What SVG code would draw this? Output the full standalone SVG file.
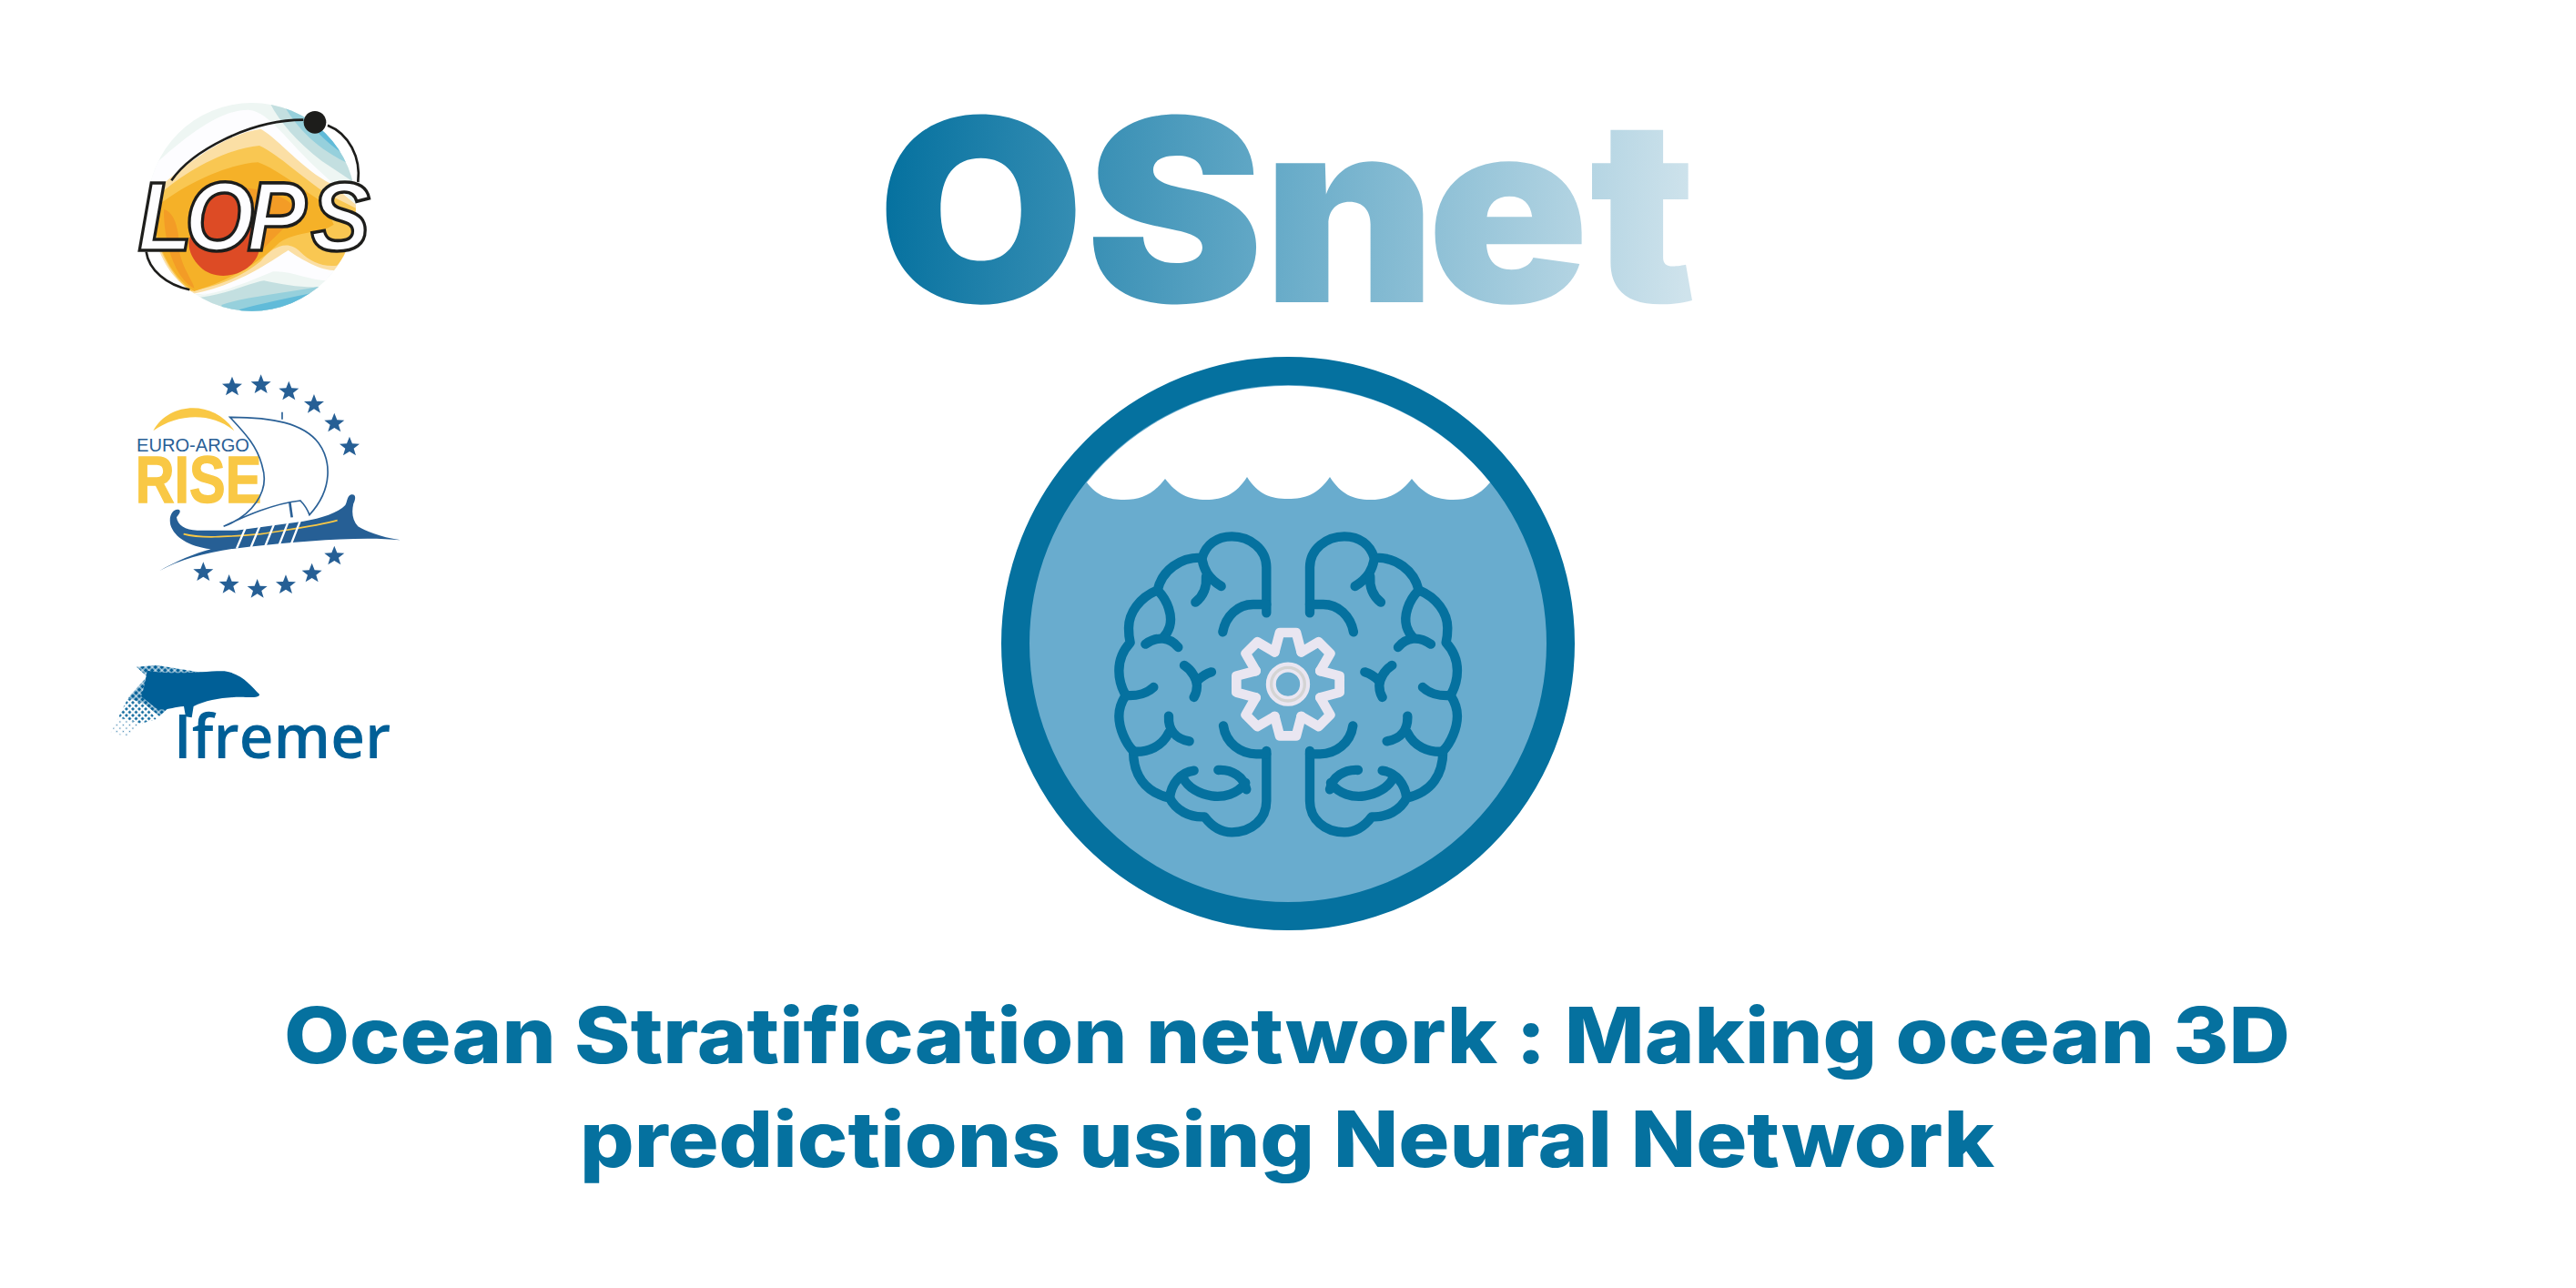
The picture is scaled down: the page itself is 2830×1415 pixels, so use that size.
<svg xmlns="http://www.w3.org/2000/svg" width="2830" height="1415" viewBox="0 0 2830 1415">
<style>
.title{font-family:"Inter","Liberation Sans",sans-serif;font-weight:800;font-size:85px;fill:#05719f;font-feature-settings:"calt" 0}
.br{fill:none;stroke:#05719f;stroke-width:31;stroke-linecap:round;stroke-linejoin:round}
.gear{fill:none;stroke:#e9e6f1;stroke-width:32;stroke-linecap:round;stroke-linejoin:round}
.star{fill:#265f95}
</style>
<defs>
<linearGradient id="osg" gradientUnits="userSpaceOnUse" x1="926" y1="200" x2="1769" y2="260"><stop offset="0" stop-color="#05719f"/><stop offset="0.5" stop-color="#69acc9"/><stop offset="1" stop-color="#cfe3ec"/></linearGradient>
<clipPath id="lopsclip"><circle cx="530" cy="412" r="343"/></clipPath>
<polygon id="st" points="0,-34 9,-11 33,-10 14,5 21,28 0,15 -21,28 -14,5 -33,-10 -9,-11"/>
<path id="tooth" d="M-44,-106 L-27,-170 H27 L44,-106"/>
<g id="hemi">
<path class="br" d="M574,340 V190 C574,130 520,88 460,88 C410,88 375,115 362,158 C290,155 230,200 215,265 C155,290 120,340 120,390 C120,410 122,425 125,438 C100,465 88,500 88,530 C88,560 98,590 110,612 C95,635 88,660 88,680 C88,720 110,770 135,795 C135,870 170,930 255,950 C275,990 320,1015 370,1012 C395,1045 425,1063 460,1063 C525,1063 574,1020 574,960 V795"/>
<path class="br" d="M574,805 H540 C490,805 440,770 432,712"/>
<path class="br" d="M362,165 C368,195 380,225 425,252"/>
<path class="br" d="M375,220 C378,255 365,285 340,305"/>
<path class="br" d="M574,312 H530 C480,312 440,350 430,403"/>
<path class="br" d="M215,265 C250,300 265,350 255,385 C250,400 245,410 235,420"/>
<path class="br" d="M175,443 C215,415 255,420 283,453"/>
<path class="br" d="M303,513 C330,530 345,560 345,580 C345,600 340,610 335,618"/>
<path class="br" d="M393,535 C375,540 360,550 345,565"/>
<path class="br" d="M110,612 C155,615 180,605 202,585"/>
<path class="br" d="M135,797 C185,800 230,780 252,735"/>
<path class="br" d="M252,680 C250,720 270,755 320,763"/>
<path class="br" d="M255,950 C260,905 290,865 335,860"/>
<path class="br" d="M300,885 C330,945 450,975 505,900"/>
<path class="br" d="M415,858 C460,855 500,880 508,922"/>
</g>
<pattern id="d1" patternUnits="userSpaceOnUse" width="15" height="15" patternTransform="rotate(45)"><rect x="1.500" y="1.500" width="12" height="12" fill="#005f97"/></pattern>
<pattern id="d2" patternUnits="userSpaceOnUse" width="15" height="15" patternTransform="rotate(45)"><rect x="3.500" y="3.500" width="8" height="8" fill="#005f97"/></pattern>
<pattern id="d3" patternUnits="userSpaceOnUse" width="15" height="15" patternTransform="rotate(45)"><rect x="5.500" y="5.500" width="4" height="4" fill="#3c82ad"/></pattern>
</defs>
<rect width="2830" height="1415" fill="#fff"/>

<g id="lops-logo" transform="translate(100,90) scale(0.3333)">
<g clip-path="url(#lopsclip)">
<rect x="180" y="60" width="700" height="700" fill="#eef6f3"/>
<path fill="#fdfdff" d="M190,290 C300,190 420,90 520,92 C590,100 640,190 760,300 L890,420 V640 L740,680 L340,700 L190,600Z"/>
<path fill="#c3dfe0" d="M590,70 C620,130 680,200 760,260 L880,340 V50 H590Z"/>
<path fill="#96d0dc" d="M640,85 C680,150 740,220 860,275 L890,270 V50 H640Z"/>
<path fill="#61bbd9" d="M710,115 C740,170 790,210 850,250 L890,250 V60 H710Z"/>
<path fill="#fbdfa5" d="M200,370 C300,280 440,170 560,155 C620,190 700,290 790,335 L880,410 C880,470 870,560 825,620 C770,630 700,590 650,555 C600,585 490,670 330,700 C260,650 190,520 190,400Z"/>
<path fill="#f9c752" d="M210,385 C300,300 440,220 555,210 C620,240 700,320 780,370 L880,420 C880,480 860,560 810,605 C760,610 720,590 690,560 C650,520 600,540 560,590 C500,640 430,670 330,690 C260,640 200,520 200,420Z"/>
<path fill="#f5b128" d="M205,420 C300,340 450,270 550,265 C620,290 700,360 770,400 L800,470 C760,500 680,490 620,530 C560,590 470,650 340,690 C260,640 205,520 205,420Z"/>
<path fill="#f39c26" d="M240,420 C280,430 290,500 290,540 C290,600 340,660 340,680 C280,650 240,540 240,420Z M400,350 C480,340 620,350 680,420 C660,470 600,510 560,560 L400,560Z"/>
<path fill="#dd4b25" d="M420,350 C480,345 520,400 530,450 C560,500 570,560 530,600 C480,650 400,650 360,610 C320,570 310,520 340,490 C370,450 380,400 420,350Z"/>
<path fill="#fdfdff" d="M340,705 C450,690 540,640 600,595 C660,570 730,650 800,650 L880,640 V780 H340Z"/>
<path fill="#eef6f3" d="M350,705 C450,690 540,650 600,625 C660,620 730,660 800,655 V780 H350Z"/>
<path fill="#c3dfe0" d="M360,710 C450,700 530,660 570,655 C640,670 700,680 770,675 L760,780 H370Z"/>
<path fill="#96d0dc" d="M430,735 C500,710 610,700 750,675 L740,780 H440Z"/>
<path fill="#61bbd9" d="M490,750 C560,730 660,710 730,695 L700,780 H490Z"/>
</g>
<path fill="none" stroke="#1d1d1b" stroke-width="8" d="M265,325 C330,230 520,125 700,125"/>
<path fill="none" stroke="#1d1d1b" stroke-width="8" d="M780,143 C850,170 890,250 880,330"/>
<path fill="none" stroke="#1d1d1b" stroke-width="8" d="M182,560 C190,620 250,670 325,685"/>
<circle cx="738" cy="133" r="37" fill="#1d1d1b"/>
<text transform="scale(0.9,1)" x="172 344 572 805" y="555" font-family="Liberation Sans, sans-serif" font-weight="700" font-style="italic" font-size="325" fill="#fdfdff" stroke="#1d1d1b" stroke-width="11">LOPS</text>
</g>

<g id="euro-argo-logo" transform="translate(100,390) scale(0.3333)">
<use href="#st" class="star" x="465" y="105"/><use href="#st" class="star" x="560" y="98"/><use href="#st" class="star" x="652" y="120"/><use href="#st" class="star" x="735" y="163"/><use href="#st" class="star" x="802" y="225"/><use href="#st" class="star" x="852" y="303"/>
<use href="#st" class="star" x="802" y="663"/><use href="#st" class="star" x="728" y="720"/><use href="#st" class="star" x="642" y="758"/><use href="#st" class="star" x="548" y="772"/><use href="#st" class="star" x="455" y="757"/><use href="#st" class="star" x="370" y="716"/>
<path fill="#f9c845" d="M205,250 C260,150 410,150 472,250 C400,190 290,190 205,250Z"/>
<text x="150" y="318" font-family="Liberation Sans, sans-serif" font-size="60" fill="#2a6096" textLength="372" lengthAdjust="spacingAndGlyphs">EURO-ARGO</text>
<text x="146" y="485" font-family="Liberation Sans, sans-serif" font-weight="700" font-size="216" fill="#f9c845" stroke="#f9c845" stroke-width="4" textLength="416" lengthAdjust="spacingAndGlyphs">RISE</text>
<path fill="none" stroke="#2a6096" stroke-width="5" d="M458,205 C600,205 700,225 750,290 C790,345 800,440 720,527 C710,500 700,490 690,480 C600,490 510,530 437,565 C530,530 590,450 565,370 C550,300 500,250 458,205Z"/>
<path fill="none" stroke="#2a6096" stroke-width="5" d="M630,188 V212"/>
<path fill="none" stroke="#2a6096" stroke-width="8" d="M655,485 L662,535"/>
<path fill="#265f95" d="M225,712 C280,680 340,655 395,640 C320,630 275,600 262,560 C255,530 270,505 290,510 C298,515 290,525 282,535 C285,560 310,578 350,578 L480,578 L700,548 C760,538 815,520 838,495 C845,485 843,465 858,460 C875,458 872,475 865,490 C858,520 862,545 880,565 C905,580 950,600 1020,610 C900,597 700,612 520,632 C400,645 300,670 225,712Z"/>
<path fill="none" stroke="#f9c845" stroke-width="5" d="M305,590 C360,605 440,600 560,590 C650,575 740,565 812,545"/>
<path fill="none" stroke="#fff" stroke-width="7" d="M510,568 L480,638 M557,562 L527,634 M604,556 L574,630 M650,550 L620,626 M690,545 L660,622"/>
</g>

<g id="ifremer-logo" transform="translate(100,390) scale(0.3333)">
<path fill="url(#d1)" d="M150,1028 L215,1022 L400,1052 L400,1070 L330,1100 L225,1190 L175,1150 L122,1130 L185,1060Z"/>
<path fill="url(#d2)" d="M122,1130 L175,1150 L215,1200 L165,1215 L90,1195Z"/>
<path fill="url(#d3)" d="M90,1195 L165,1215 L120,1258 L65,1245Z"/>
<path fill="#005f97" d="M185,1040 C280,1058 380,1040 440,1042 C500,1050 530,1095 555,1118 C556,1128 540,1128 510,1128 C450,1126 385,1135 338,1158 L332,1195 L312,1192 L306,1158 C270,1160 240,1175 215,1165 L165,1125 C175,1100 180,1070 185,1040Z"/>
<text x="272" y="1328" font-family="Open Sans, Liberation Sans, sans-serif" font-weight="600" font-size="200" fill="#005f97" textLength="716" lengthAdjust="spacingAndGlyphs">Ifremer</text>
</g>

<g id="osnet-title">
<text transform="scale(1.05,1)" x="917.700 1135.800 1321 1493 1663" y="332" font-family="Inter, Liberation Sans, sans-serif" font-weight="900" font-size="280" fill="url(#osg)">OSnet</text>
</g>

<g id="ocean-brain">
<circle cx="1415" cy="707" r="299.500" fill="#69acce" stroke="#05719f" stroke-width="31"/>
<path fill="#fff" d="M1194,530 A284,284 0 0 1 1637,530 C1625,545 1612,549 1596.500,549 C1578,549 1564,543 1551,526 C1538,543 1524,549 1505,549 C1487,549 1473,543 1461,524 C1448,543 1434,548 1415,548 C1396,548 1382,543 1370,524 C1358,543 1344,549 1325,549 C1306,549 1293,543 1280,526 C1267,543 1254,549 1235,549 C1218,549 1205,545 1194,530Z"/>
<g transform="translate(1200,560) scale(0.3333)">
<use href="#hemi"/>
<use href="#hemi" transform="translate(1291,0) scale(-1,1)"/>
<g transform="translate(645,575)">
<use href="#tooth" class="gear"/><use href="#tooth" class="gear" transform="rotate(45)"/><use href="#tooth" class="gear" transform="rotate(90)"/><use href="#tooth" class="gear" transform="rotate(135)"/><use href="#tooth" class="gear" transform="rotate(180)"/><use href="#tooth" class="gear" transform="rotate(225)"/><use href="#tooth" class="gear" transform="rotate(270)"/><use href="#tooth" class="gear" transform="rotate(315)"/>
<circle r="56" fill="none" stroke="#e9e6f1" stroke-width="33"/>
<circle r="55" fill="none" stroke="#d4d4d4" stroke-width="10"/>
</g>
</g>
</g>

<g id="subtitle">
<text class="title" x="312" y="1168" textLength="2204" lengthAdjust="spacingAndGlyphs">Ocean Stratification network : Making ocean 3D</text>
<text class="title" x="637" y="1282" textLength="1554" lengthAdjust="spacingAndGlyphs">predictions using Neural Network</text>
</g>
</svg>
